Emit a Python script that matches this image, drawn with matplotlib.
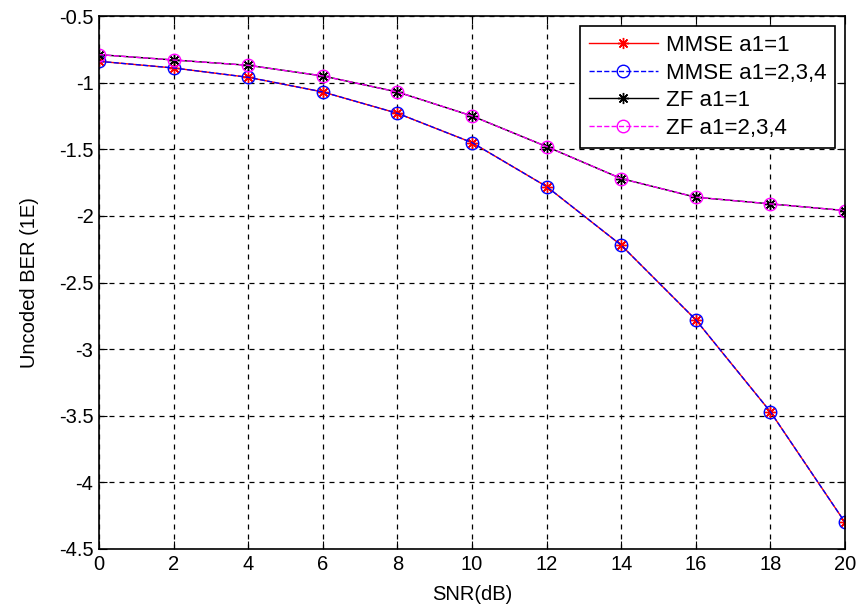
import matplotlib
matplotlib.use("Agg")
import matplotlib.pyplot as plt

plt.rcParams['font.family'] = ['Liberation Sans', 'DejaVu Sans']

snr = [0, 2, 4, 6, 8, 10, 12, 14, 16, 18, 20]
mmse = [-0.84, -0.89, -0.96, -1.07, -1.23, -1.45, -1.78, -2.22, -2.78, -3.47, -4.30]
zf = [-0.79, -0.83, -0.87, -0.95, -1.07, -1.25, -1.48, -1.72, -1.86, -1.91, -1.96]

fig = plt.figure(figsize=(8.58, 6.10), dpi=100)
ax = fig.add_axes([99 / 858, 61 / 610, 746 / 858, 533 / 610])

star = (8, 2, 0)  # matlab-like asterisk

# mmse curves (a1=1 and a1=2,3,4 overlap)
ax.plot(snr, mmse, color="red", ls="-", lw=1, marker=star, ms=8, mew=1, label="MMSE a1=1")
ax.plot(snr, mmse, color="blue", ls="--", lw=1, marker="o", ms=9, mfc="none", label="MMSE a1=2,3,4")
# zf curves
ax.plot(snr, zf, color="black", ls="-", lw=1, marker=star, ms=8, mew=1, label="ZF a1=1")
ax.plot(snr, zf, color="magenta", ls="--", lw=1, marker="o", ms=9, mfc="none", label="ZF a1=2,3,4")

ax.set_xlim(0, 20)
ax.set_ylim(-4.5, -0.5)
ax.set_xticks(range(0, 21, 2))
ax.set_yticks([-4.5, -4, -3.5, -3, -2.5, -2, -1.5, -1, -0.5])
ax.set_yticklabels(["-4.5", "-4", "-3.5", "-3", "-2.5", "-2", "-1.5", "-1", "-0.5"])
ax.grid(True, color="black", ls=(0, (4, 4)), lw=0.9)
ax.tick_params(direction="in", labelsize=14.5, length=6, top=True, right=True, pad=4)
for s in ax.spines.values():
    s.set_linewidth(1.2)
ax.set_xlabel("SNR(dB)", fontsize=14.5, labelpad=8)
ax.set_ylabel("Uncoded BER (1E)", fontsize=14.5, labelpad=14)

leg = ax.legend(loc="upper right", fontsize=16, fancybox=False, framealpha=1,
                edgecolor="black", handlelength=3.1, handletextpad=0.35,
                labelspacing=0.3, borderaxespad=0.45, borderpad=0.4)
leg.get_frame().set_linewidth(1.2)

plt.savefig("out.png")
plt.close()
